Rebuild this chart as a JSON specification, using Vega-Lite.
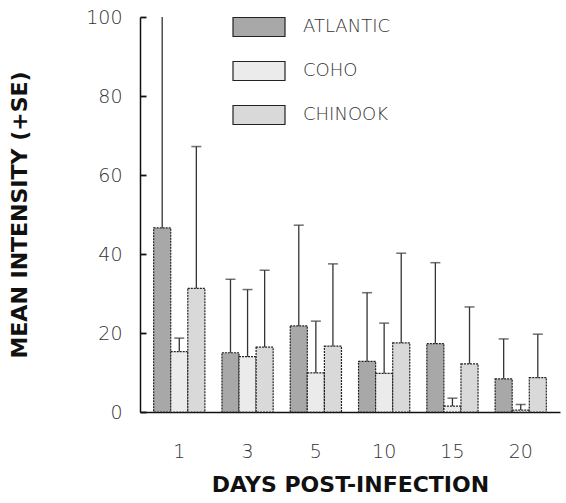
{
  "$schema": "https://vega.github.io/schema/vega-lite/v6.json",
  "width": 420,
  "height": 395,
  "autosize": {"type": "none"},
  "padding": {"left": 140, "top": 17, "right": 6, "bottom": 91},
  "background": "white",
  "data": {
    "values": [
      {"day": 1, "species": "ATLANTIC", "mean": 46.6, "upper": 104},
      {"day": 1, "species": "COHO", "mean": 15.3, "upper": 18.7},
      {"day": 1, "species": "CHINOOK", "mean": 31.3, "upper": 67.2},
      {"day": 3, "species": "ATLANTIC", "mean": 15.0, "upper": 33.6},
      {"day": 3, "species": "COHO", "mean": 14.0, "upper": 31.0},
      {"day": 3, "species": "CHINOOK", "mean": 16.4, "upper": 35.9},
      {"day": 5, "species": "ATLANTIC", "mean": 21.8, "upper": 47.3},
      {"day": 5, "species": "COHO", "mean": 9.9, "upper": 23.0},
      {"day": 5, "species": "CHINOOK", "mean": 16.7, "upper": 37.5},
      {"day": 10, "species": "ATLANTIC", "mean": 12.8, "upper": 30.2},
      {"day": 10, "species": "COHO", "mean": 9.8, "upper": 22.5},
      {"day": 10, "species": "CHINOOK", "mean": 17.5, "upper": 40.2},
      {"day": 15, "species": "ATLANTIC", "mean": 17.3, "upper": 37.8},
      {"day": 15, "species": "COHO", "mean": 1.5, "upper": 3.5},
      {"day": 15, "species": "CHINOOK", "mean": 12.2, "upper": 26.6},
      {"day": 20, "species": "ATLANTIC", "mean": 8.4, "upper": 18.5},
      {"day": 20, "species": "COHO", "mean": 0.5, "upper": 1.9},
      {"day": 20, "species": "CHINOOK", "mean": 8.7, "upper": 19.7}
    ]
  },
  "config": {
    "view": {"stroke": null},
    "axis": {"grid": false, "domainColor": "#111", "domainWidth": 1.5}
  },
  "encoding": {
    "x": {
      "field": "day", "type": "ordinal",
      "scale": {"paddingInner": 0.25, "paddingOuter": 0.2},
      "axis": {
        "title": "DAYS POST-INFECTION", "titleFont": "DejaVu Sans", "titleFontWeight": "bold",
        "titleFontSize": 22, "titleColor": "#111", "titlePadding": 13,
        "labelFont": "DejaVu Sans", "labelFontWeight": 200, "labelFontSize": 19, "labelColor": "#333",
        "labelAngle": 0, "ticks": false, "labelPadding": 30
      }
    },
    "xOffset": {"field": "species", "type": "nominal", "sort": ["ATLANTIC", "COHO", "CHINOOK"], "scale": {"paddingInner": 0, "paddingOuter": 0}}
  },
  "layer": [
    {
      "mark": {"type": "bar", "stroke": "#222", "strokeWidth": 1.2, "strokeDash": [2, 1]},
      "encoding": {
        "y": {
          "field": "mean", "type": "quantitative",
          "scale": {"domain": [0, 100], "nice": false},
          "axis": {
            "values": [0, 20, 40, 60, 80, 100], "ticks": true, "tickSize": -6, "tickColor": "#111", "tickWidth": 1.8,
            "labelPadding": 24,
            "title": "MEAN INTENSITY (+SE)", "titleFont": "DejaVu Sans", "titleFontWeight": "bold",
            "titleFontSize": 22, "titleColor": "#111", "titlePadding": 54,
            "labelFont": "DejaVu Sans", "labelFontWeight": 200, "labelFontSize": 19, "labelColor": "#333"
          }
        },
        "fill": {
          "field": "species", "type": "nominal",
          "sort": ["ATLANTIC", "COHO", "CHINOOK"],
          "scale": {"domain": ["ATLANTIC", "COHO", "CHINOOK"], "range": ["#a8a8a8", "#ebebeb", "#d9d9d9"]},
          "legend": {
            "title": null, "orient": "none", "legendX": 92, "legendY": -17,
            "symbolType": "M-1,-0.365H1V0.365H-1Z", "symbolSize": 2704,
            "symbolStrokeColor": "#222", "symbolStrokeWidth": 1.2, "symbolOpacity": 1,
            "rowPadding": 5, "labelOffset": 17,
            "labelFont": "DejaVu Sans", "labelFontWeight": 200, "labelFontSize": 18, "labelColor": "#333"
          }
        }
      }
    },
    {
      "mark": {"type": "rule", "color": "#333", "strokeWidth": 1.3, "clip": true},
      "encoding": {
        "y": {"field": "mean", "type": "quantitative"},
        "y2": {"field": "upper"}
      }
    },
    {
      "mark": {"type": "tick", "orient": "horizontal", "size": 10, "thickness": 1.5, "color": "#333", "clip": true},
      "encoding": {
        "y": {"field": "upper", "type": "quantitative"}
      }
    }
  ]
}
